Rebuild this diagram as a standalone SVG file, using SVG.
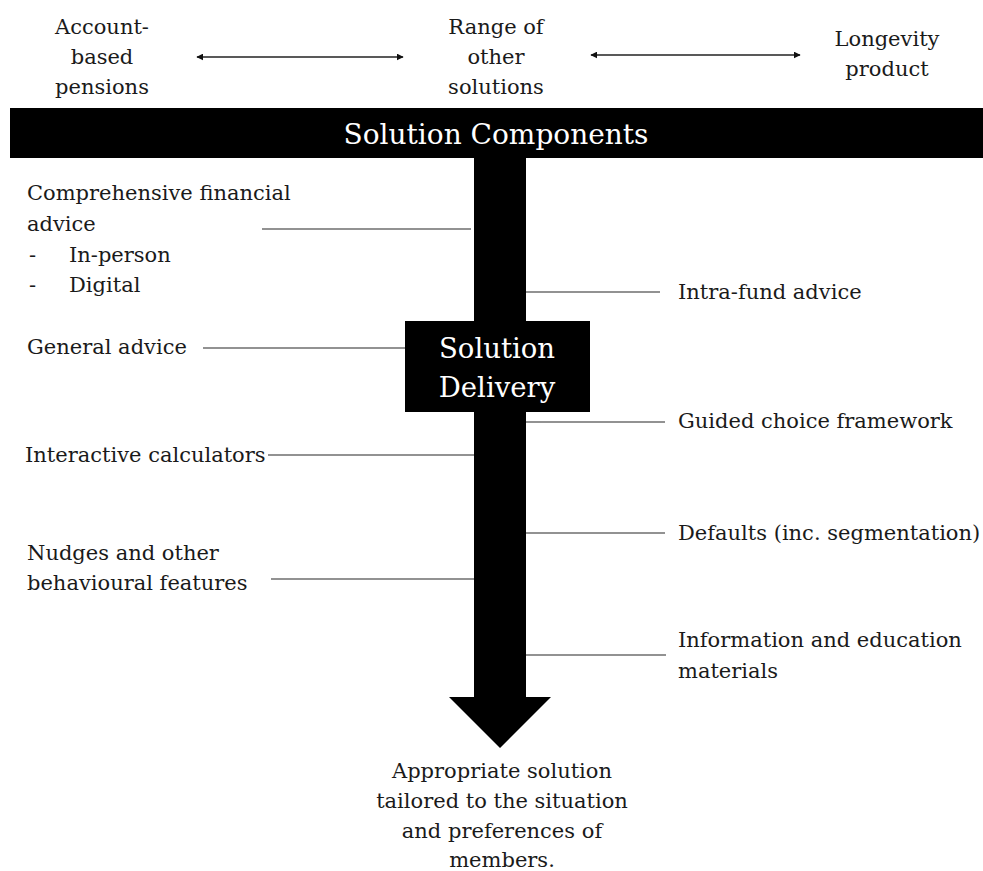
<svg xmlns="http://www.w3.org/2000/svg" width="983" height="871" viewBox="0 0 983 871">
  <style>
    text { font-family: "DejaVu Serif", "Liberation Serif", serif; fill: #1a1a1a; font-size: 21px; }
    .c { text-anchor: middle; }
    .w { fill: #ffffff; }
    .big { font-size: 28px; }
    .box { font-size: 27.5px; }
    .lead { stroke: #6e6e6e; stroke-width: 1.5; fill: none; }
    .dbl { stroke: #222; stroke-width: 1.3; fill: none; marker-start: url(#tipL); marker-end: url(#tipR); }
  </style>
  <defs>
    <marker id="tipR" viewBox="0 0 10 10" refX="9" refY="5" markerWidth="7" markerHeight="7" markerUnits="userSpaceOnUse" orient="auto">
      <path d="M0,0 L10,5 L0,10 z" fill="#111"/>
    </marker>
    <marker id="tipL" viewBox="0 0 10 10" refX="1" refY="5" markerWidth="7" markerHeight="7" markerUnits="userSpaceOnUse" orient="auto">
      <path d="M10,0 L0,5 L10,10 z" fill="#111"/>
    </marker>
  </defs>
  <rect width="983" height="871" fill="#ffffff"/>

  <!-- spectrum of retirement products -->
  <g id="account-based">
    <text class="c" x="102" y="34">Account-</text>
    <text class="c" x="102" y="64">based</text>
    <text class="c" x="102" y="94">pensions</text>
  </g>
  <g id="range-other">
    <text class="c" x="496" y="34">Range of</text>
    <text class="c" x="496" y="64">other</text>
    <text class="c" x="496" y="94">solutions</text>
  </g>
  <g id="longevity">
    <text class="c" x="887" y="46">Longevity</text>
    <text class="c" x="887" y="76">product</text>
  </g>

  <!-- main structure: components bar, delivery shaft and arrow -->
  <g id="solution-components">
    <rect x="10" y="108" width="973" height="50" fill="#000"/>
    <text class="c w big" x="496" y="144">Solution Components</text>
  </g>
  <g id="delivery-shaft">
    <polygon points="474,158 526,158 526,697 551,697 500,748 449,697 474,697" fill="#000"/>
  </g>
  <g id="solution-delivery">
    <rect x="405" y="321" width="185" height="91" fill="#000"/>
    <text class="c w box" x="497" y="358">Solution</text>
    <text class="c w box" x="497" y="397">Delivery</text>
  </g>

  <!-- left-hand delivery channels -->
  <g id="comprehensive-advice">
    <text x="27" y="200">Comprehensive financial</text>
    <text x="27" y="231">advice</text>
    <text x="29" y="262">-</text>
    <text x="69" y="262">In-person</text>
    <text x="29" y="292">-</text>
    <text x="69" y="292">Digital</text>
  </g>
  <g id="general-advice">
    <text x="27" y="354">General advice</text>
  </g>
  <g id="calculators">
    <text x="25" y="462">Interactive calculators</text>
  </g>
  <g id="nudges">
    <text x="27" y="560">Nudges and other</text>
    <text x="27" y="590">behavioural features</text>
  </g>

  <!-- right-hand delivery channels -->
  <g id="intra-fund">
    <text x="678" y="299">Intra-fund advice</text>
  </g>
  <g id="guided-choice">
    <text x="678" y="428">Guided choice framework</text>
  </g>
  <g id="defaults">
    <text x="678" y="540">Defaults (inc. segmentation)</text>
  </g>
  <g id="information">
    <text x="678" y="647">Information and education</text>
    <text x="678" y="678">materials</text>
  </g>

  <!-- outcome -->
  <g id="outcome">
    <text class="c" x="502" y="778">Appropriate solution</text>
    <text class="c" x="502" y="808">tailored to the situation</text>
    <text class="c" x="502" y="838">and preferences of</text>
    <text class="c" x="502" y="867">members.</text>
  </g>

  <g id="connectors">
    <line class="dbl" x1="197" y1="57" x2="403" y2="57"/>
    <line class="dbl" x1="591" y1="55" x2="800" y2="55"/>
    <line class="lead" x1="262" y1="229" x2="471" y2="229"/>
    <line class="lead" x1="203" y1="348" x2="405" y2="348"/>
    <line class="lead" x1="268" y1="455" x2="474" y2="455"/>
    <line class="lead" x1="271" y1="579" x2="474" y2="579"/>
    <line class="lead" x1="526" y1="292" x2="660" y2="292"/>
    <line class="lead" x1="526" y1="422" x2="665" y2="422"/>
    <line class="lead" x1="526" y1="533" x2="665" y2="533"/>
    <line class="lead" x1="526" y1="655" x2="666" y2="655"/>
  </g>
</svg>
